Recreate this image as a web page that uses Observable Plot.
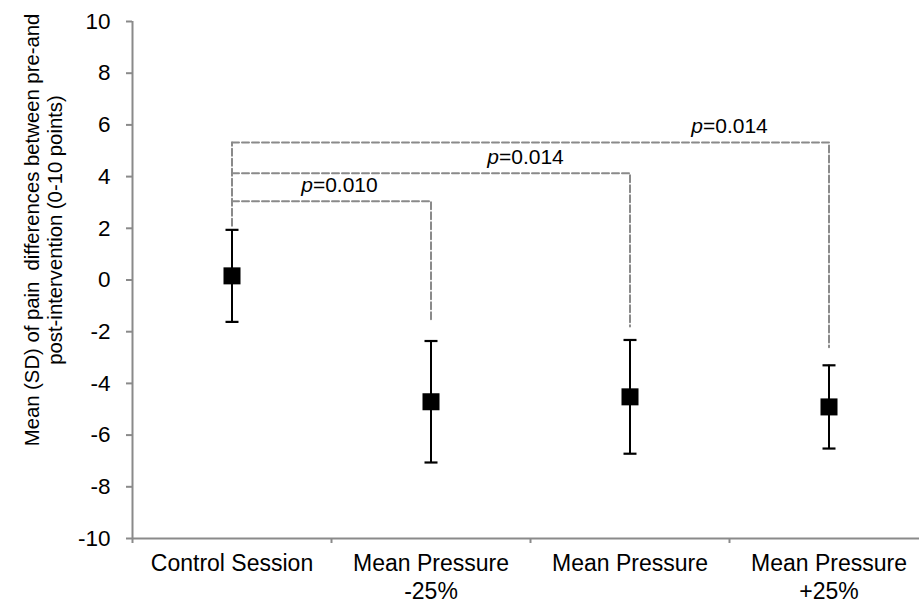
<!DOCTYPE html>
<html>
<head>
<meta charset="utf-8">
<script src="https://cdn.jsdelivr.net/npm/d3@7"></script>
<script src="https://cdn.jsdelivr.net/npm/@observablehq/plot@0.6"></script>
<style>
  html, body { margin: 0; padding: 0; background: #fff; overflow: hidden; }
  #chart svg { font-family: "Liberation Sans", Arial, sans-serif; display: block; }
</style>
</head>
<body>
<div id="chart"></div>
<script>
// ---- data ----
const categories = ["Control Session", "Mean Pressure\n-25%", "Mean Pressure", "Mean Pressure\n+25%"];
const means = [0.16, -4.71, -4.52, -4.91];
const sds = [1.78, 2.35, 2.2, 1.61];
const yTicks = [-10, -8, -6, -4, -2, 0, 2, 4, 6, 8, 10];

// significance brackets (from Control Session to each target)
const bracketTargets = [1, 2, 3];
const bracketLevels = [3.05, 4.13, 5.32];
const bracketEnds = [-1.57, -1.8, -2.6];
const bracketStart = 2.1;
const pValues = ["0.010", "0.014", "0.014"];
const pLabelX = [1.04, 1.975, 3.0];

const yTitle = "Mean (SD) of pain  differences between pre-and\npost-intervention (0-10 points)";

// ---- derived tables ----
const rows = categories.map((c, i) => ({
  pos: i + 0.5, label: c, mean: means[i],
  lo: means[i] - sds[i], hi: means[i] + sds[i]
}));
const linePts = [];
bracketTargets.forEach((t, k) => {
  linePts.push({k, x: 0.5, y: bracketLevels[k]});
  linePts.push({k, x: t + 0.5, y: bracketLevels[k]});
  linePts.push({k, x: t + 0.5, y: bracketEnds[k]});
});
const maxLevel = Math.max(...bracketLevels);
linePts.push({k: "v", x: 0.5, y: bracketStart});
linePts.push({k: "v", x: 0.5, y: maxLevel});
const pLabels = bracketTargets.map((t, k) => ({x: pLabelX[k], y: bracketLevels[k], text: "p=" + pValues[k]}));

const capSymbol = {
  draw(ctx, size) {
    const r = Math.sqrt(size / Math.PI);
    ctx.moveTo(-r, 0); ctx.lineTo(r, 0);
  }
};

const axisGray = "#8a8a8a";
const dashGray = "#8a8a8a";

const chart = Plot.plot({
  width: 919,
  height: 605,
  marginTop: 21,
  marginBottom: 67,
  marginLeft: 132,
  marginRight: 0,
  style: {fontFamily: "'Liberation Sans', Arial, sans-serif", fontSize: "21px", color: "black", background: "white"},
  x: {domain: [0, 4], range: [132, 928], axis: null},
  y: {domain: [-10, 10], axis: null},
  marks: [
    // y axis
    Plot.ruleX([0], {stroke: axisGray, strokeWidth: 2}),
    Plot.axisY({ticks: yTicks, tickSize: 6, tickFormat: () => "", stroke: axisGray, strokeWidth: 2, label: null}),
    Plot.text(yTicks, {y: d => d, frameAnchor: "left", text: d => String(d), textAnchor: "end", dx: -22, fontSize: 22.5, fill: "black"}),
    // x axis
    Plot.ruleY([-10], {stroke: axisGray, strokeWidth: 2}),
    Plot.axisX({ticks: [0, 1, 2, 3, 4], tickSize: 5, tickFormat: () => "", stroke: axisGray, strokeWidth: 2, label: null}),
    Plot.text(rows, {x: "pos", frameAnchor: "bottom", text: "label", lineAnchor: "top", dy: 13, lineHeight: 1.22, fontSize: 23, fill: "black"}),
    // y title
    Plot.text([yTitle], {frameAnchor: "left", rotate: -90, dx: -89, dy: -50, textAnchor: "middle", lineAnchor: "middle", lineHeight: 1.1, fontSize: 20.3, fill: "black"}),
    // brackets
    Plot.line(linePts, {x: "x", y: "y", z: "k", stroke: dashGray, strokeWidth: 2, strokeDasharray: "7,3", curve: "linear"}),
    Plot.text(pLabels, {x: "x", y: "y", text: "text", dy: -16, fontSize: 21, fill: "black", className: "plab"}),
    // error bars
    Plot.ruleX(rows, {x: "pos", y1: "lo", y2: "hi", stroke: "black", strokeWidth: 2}),
    Plot.dot(rows, {x: "pos", y: "lo", symbol: capSymbol, r: 6.5, stroke: "black", strokeWidth: 2.2, fill: "none"}),
    Plot.dot(rows, {x: "pos", y: "hi", symbol: capSymbol, r: 6.5, stroke: "black", strokeWidth: 2.2, fill: "none"}),
    Plot.dot(rows, {x: "pos", y: "mean", symbol: "square", r: 9.6, fill: "black", stroke: "none"})
  ]
});

// italic "p" in significance labels
d3.select(chart).selectAll(".plab text").each(function() {
  const t = this.textContent;
  const sel = d3.select(this);
  sel.text("");
  sel.append("tspan").attr("font-style", "italic").text(t.slice(0, 1));
  sel.append("tspan").text(t.slice(1));
});

document.getElementById("chart").appendChild(chart);
</script>
</body>
</html>
